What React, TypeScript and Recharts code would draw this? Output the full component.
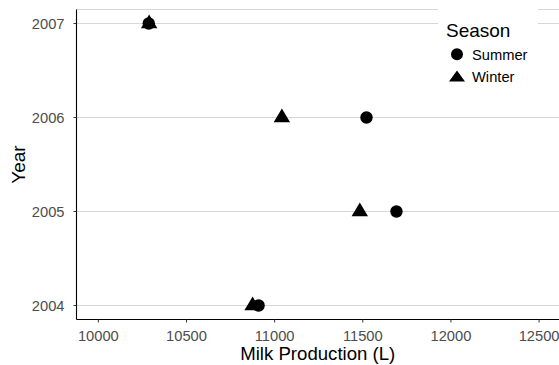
import React from "react";
import { ScatterChart, Scatter, XAxis, YAxis, CartesianGrid, Legend } from "recharts";

const FONT = "'Liberation Sans', Arial, Helvetica, sans-serif";

const years = [2004, 2005, 2006, 2007];
const summerValues = [10909, 11691, 11521, 10286];
const winterValues = [10875, 11483, 11041, 10288];
const xTicks = [10000, 10500, 11000, 11500, 12000, 12500];
const yTicks = [2004, 2005, 2006, 2007];

const summerData = years.map((y, i) => ({ x: summerValues[i], y }));
const winterData = years.map((y, i) => ({ x: winterValues[i], y }));

const CircleShape = (props: any) => {
  const { cx, cy } = props;
  return <circle cx={cx} cy={cy} r={6.2} fill="#000" />;
};

const TriangleShape = (props: any) => {
  const { cx, cy } = props;
  const pts = `${cx},${cy - 9} ${cx - 8.2},${cy + 4.8} ${cx + 8.2},${cy + 4.8}`;
  return <polygon points={pts} fill="#000" />;
};

const LegendContent = () => (
  <div style={{ background: "#fff", width: 100, height: 85 }}>
    <svg width={100} height={85} style={{ display: "block" }}>
      <text x={8} y={27.7} fontSize={19} fontFamily={FONT} fill="#000">Season</text>
      <circle cx={19} cy={45.3} r={6} fill="#000" />
      <text x={34} y={50.6} fontSize={14.7} fontFamily={FONT} fill="#000">Summer</text>
      <polygon points={`19,${61.5} ${19 - 8},${72.6} ${19 + 8},${72.6}`} fill="#000" />
      <text x={34} y={72.6} fontSize={14.7} fontFamily={FONT} fill="#000">Winter</text>
    </svg>
  </div>
);

export default function App() {
  return (
    <div style={{ position: "absolute", left: 0, top: 0, width: 559, height: 365, background: "#fff" }}>
      <ScatterChart
        width={559}
        height={365}
        margin={{ top: 9.5, right: 0, bottom: 0, left: 0.5 }}
        style={{ fontFamily: FONT }}
      >
        <CartesianGrid horizontal={true} vertical={false} stroke="#d6d6d6" strokeWidth={1} />
        <XAxis
          type="number"
          dataKey="x"
          domain={[9876, 12613]}
          ticks={xTicks}
          allowDataOverflow
          height={45.5}
          axisLine={{ stroke: "#000", strokeWidth: 1.1 }}
          tickLine={{ stroke: "#333" }}
          tickSize={3}
          tickMargin={8}
          interval={0}
          tick={{ fill: "#4d4d4d", fontSize: 14.7, fontFamily: FONT }}
          label={(p: any) => {
            const vb = p.viewBox || {};
            return (
              <text x={vb.x + vb.width / 2} y={vb.y + 40} textAnchor="middle" fontSize={18.6} fontFamily={FONT} fill="#000">
                Milk Production (L)
              </text>
            );
          }}
        />
        <YAxis
          type="number"
          dataKey="y"
          domain={[2003.851, 2007.149]}
          ticks={yTicks}
          allowDataOverflow
          width={76}
          axisLine={{ stroke: "#000", strokeWidth: 1.1 }}
          tickLine={{ stroke: "#333" }}
          tickSize={3}
          tickMargin={9}
          interval={0}
          tick={{ fill: "#4d4d4d", fontSize: 14.7, fontFamily: FONT }}
          label={(p: any) => {
            const vb = p.viewBox || {};
            const cy = vb.y + vb.height / 2;
            return (
              <text x={25} y={cy} transform={`rotate(-90, 25, ${cy})`} textAnchor="middle" fontSize={19} fontFamily={FONT} fill="#000">
                Year
              </text>
            );
          }}
        />
        <Legend
          layout="horizontal"
          verticalAlign="middle"
          align="center"
          content={<LegendContent />}
          wrapperStyle={{ position: "absolute", left: 438, top: 9, width: 100, height: 85 }}
        />
        <Scatter name="Summer" data={summerData} shape={CircleShape} isAnimationActive={false} />
        <Scatter name="Winter" data={winterData} shape={TriangleShape} isAnimationActive={false} />
      </ScatterChart>
    </div>
  );
}
